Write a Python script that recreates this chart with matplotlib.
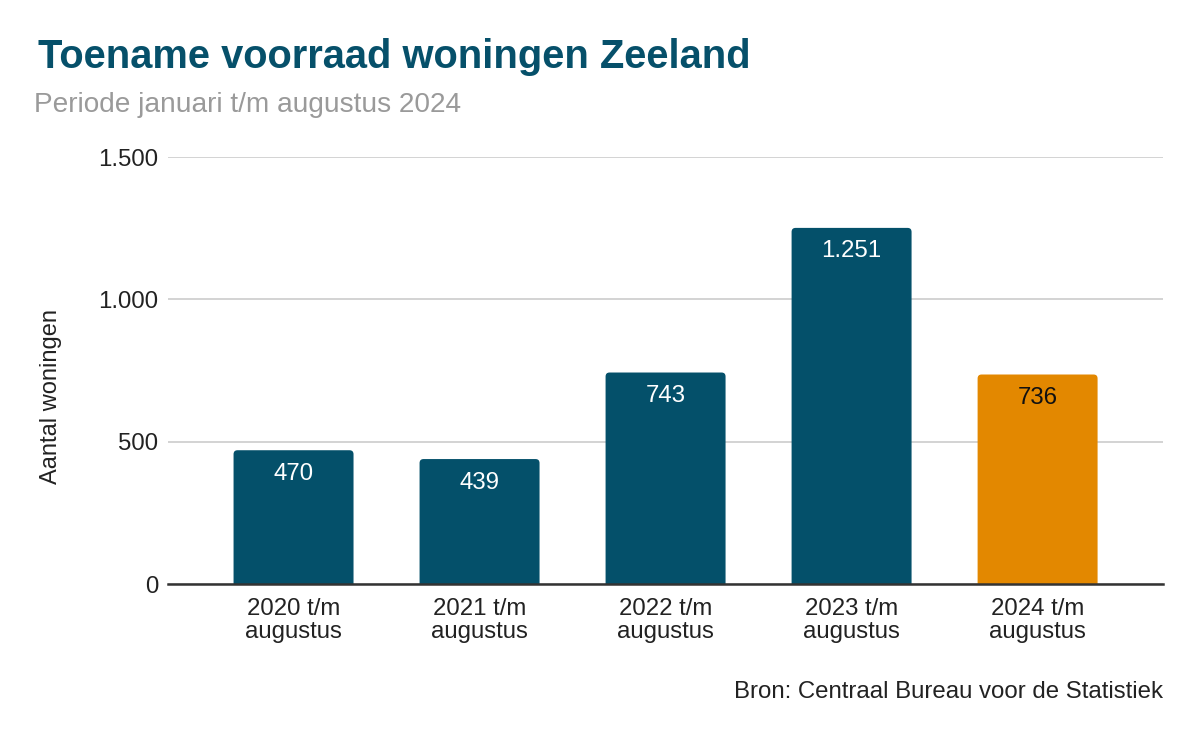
import matplotlib
matplotlib.use("Agg")
import matplotlib.pyplot as plt
from matplotlib.patches import FancyBboxPatch

categories = ["2020 t/m\naugustus", "2021 t/m\naugustus", "2022 t/m\naugustus",
              "2023 t/m\naugustus", "2024 t/m\naugustus"]
values = [470, 439, 743, 1251, 736]
value_labels = ["470", "439", "743", "1.251", "736"]
yticks = [0, 500, 1000, 1500]
ytick_labels = ["0", "500", "1.000", "1.500"]

dark = "#04506A"
orange = "#E38800"
colors = [dark, dark, dark, dark, orange]
label_colors = ["white", "white", "white", "white", "#111111"]

plt.rcParams['font.family'] = ['Liberation Sans', 'DejaVu Sans']
FS = 17.3

fig = plt.figure(figsize=(11.99, 7.42), dpi=100)
ax = fig.add_axes([0.1401, 0.2129, 0.8300, 0.5755])

ax.set_xlim(-0.675, 4.675)
ax.set_ylim(0, 1500)

bar_w = 0.645
xpp = (4.675 + 0.675) / (0.83 * 1199)
ypp = 1500 / (0.5755 * 742)
aspect = ypp / xpp
r = 4 * xpp
for i, (v, c) in enumerate(zip(values, colors)):
    p = FancyBboxPatch((i - bar_w / 2, -30), bar_w, v + 30,
                       boxstyle=f"round,pad=0,rounding_size={r}",
                       mutation_aspect=aspect, facecolor=c, edgecolor='none',
                       zorder=2, clip_on=True)
    ax.add_patch(p)
    ax.annotate(value_labels[i], (i, v), xytext=(0, -9), textcoords='offset points',
                ha='center', va='top', fontsize=FS, color=label_colors[i], zorder=3)

ax.set_yticks(yticks)
ax.set_yticklabels(ytick_labels)
ax.set_xticks(range(len(categories)))
ax.set_xticklabels(categories, linespacing=1.08)
ax.tick_params(axis='both', length=0, labelsize=FS, colors='#222222')
ax.tick_params(axis='x', pad=10)
ax.tick_params(axis='y', pad=7)
ax.yaxis.grid(True, color='#cccccc', linewidth=1.2, zorder=0)
ax.set_axisbelow(True)
for s in ['top', 'right', 'left']:
    ax.spines[s].set_visible(False)
ax.spines['bottom'].set_color('#333333')
ax.spines['bottom'].set_linewidth(1.8)
ax.spines['bottom'].set_zorder(4)

ax.set_ylabel("Aantal woningen", fontsize=17, color='#222222')
ax.yaxis.set_label_coords((51 - 168) / (0.83 * 1199), (584 - 396) / (584 - 157))
ax.yaxis.label.set_va('center')

fig.text(38 / 1199, 1 - 57 / 742, "Toename voorraad woningen Zeeland", fontsize=28.7,
         fontweight='bold', color='#06506A', va='center', ha='left')
fig.text(34 / 1199, 1 - 105 / 742, "Periode januari t/m augustus 2024", fontsize=20.2,
         color='#9a9a9a', va='center', ha='left')
fig.text(1163 / 1199, 1 - 692 / 742, "Bron: Centraal Bureau voor de Statistiek",
         fontsize=FS, color='#222222', va='center', ha='right')

fig.savefig("out.png", dpi=100)
